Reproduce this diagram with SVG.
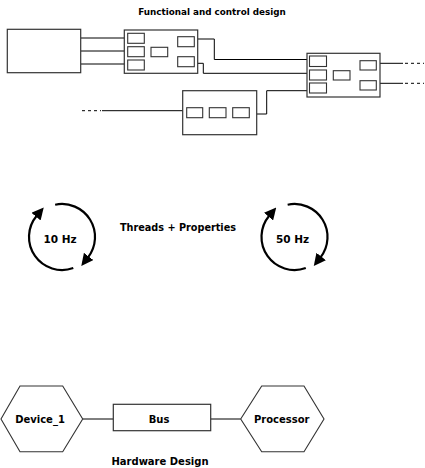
<svg xmlns="http://www.w3.org/2000/svg" width="425" height="468" viewBox="0 0 425 468">
  <style>
    .box { fill: #fff; stroke: #333; stroke-width: 1.2; }
    .port { fill: #fff; stroke: #333; stroke-width: 1.1; }
    .wire { fill: none; stroke: #000; stroke-width: 1; }
    .stub { fill: none; stroke: #000; stroke-width: 1; stroke-dasharray: 3 3; }
    .cycle { fill: none; stroke: #000; stroke-width: 2.2; marker-end: url(#head); }
    .hex { fill: #fff; stroke: #333; stroke-width: 1.1; }
    text { font-family: "DejaVu Sans", "Liberation Sans", sans-serif; font-weight: bold; fill: #000; text-anchor: middle; }
    .lbl { font-size: 10px; }
  </style>
  <defs>
    <marker id="head" markerUnits="userSpaceOnUse" markerWidth="12" markerHeight="12" viewBox="0 0 11 11" refX="1" refY="5.5" orient="auto">
      <path d="M0,0 L11,5.5 L0,11 z" fill="#000"/>
    </marker>
  </defs>

  <!-- functional and control design -->
  <text x="212" y="15" font-size="8.8">Functional and control design</text>

  <g id="connectors">
    <path class="wire" d="M81,38 H128 M81,51 H128 M81,64 H128"/>
    <path class="wire" d="M197.7,39 H214.3 V59.5 H307"/>
    <path class="wire" d="M197.7,63.3 H203.3 V73.3 H307"/>
    <path class="wire" d="M256.7,114 H266.7 V90.7 H307"/>
    <path class="wire" d="M102,110.7 H186.7"/>
    <path class="stub" d="M82,110.7 H101"/>
    <path class="wire" d="M380,63.3 H403 M380,83.3 H403"/>
    <path class="stub" d="M405,63.3 H424 M405,83.3 H424"/>
    <path class="wire" d="M82.7,419 H113.3 M210.7,419 H240.7"/>
  </g>

  <g id="source">
    <rect class="box" x="7.3" y="29.3" width="73.4" height="43.4"/>
  </g>

  <g id="component_1">
    <rect class="box" x="124.3" y="30" width="73.4" height="43.3"/>
    <rect class="port" x="127.7" y="33.3" width="16.6" height="10"/>
    <rect class="port" x="127.7" y="46.7" width="16.6" height="10"/>
    <rect class="port" x="127.7" y="60" width="16.6" height="10"/>
    <rect class="port" x="151" y="47.3" width="16.7" height="9.4"/>
    <rect class="port" x="177.7" y="36.7" width="16.6" height="10"/>
    <rect class="port" x="177.7" y="56.7" width="16.6" height="10"/>
  </g>

  <g id="component_2">
    <rect class="box" x="307" y="53.3" width="73" height="43.7"/>
    <rect class="port" x="309.5" y="56" width="17" height="10.5"/>
    <rect class="port" x="309.5" y="70" width="17" height="10"/>
    <rect class="port" x="309.5" y="83" width="17" height="10"/>
    <rect class="port" x="333.3" y="70.7" width="16.7" height="9.3"/>
    <rect class="port" x="360" y="60.7" width="16.3" height="9.3"/>
    <rect class="port" x="360" y="80.7" width="16.3" height="9.3"/>
  </g>

  <g id="component_3">
    <rect class="box" x="182.7" y="90.7" width="74" height="44"/>
    <rect class="port" x="186.7" y="107.7" width="16" height="10"/>
    <rect class="port" x="209.3" y="107.7" width="16.7" height="10"/>
    <rect class="port" x="232.7" y="107.7" width="16.6" height="10"/>
  </g>

  <!-- threads + properties -->
  <g id="thread_10hz">
    <path class="cycle" d="M55.14,204.72 A33,33 0 0 1 88,257.32"/>
    <path class="cycle" d="M73.29,268.01 A33,33 0 0 1 36.72,215.79"/>
    <text x="60" y="243" font-size="10.5">10 Hz</text>
  </g>

  <text x="178" y="230.7" font-size="9.7">Threads + Properties</text>

  <g id="thread_50hz" transform="translate(232.5,0)">
    <path class="cycle" d="M55.14,204.72 A33,33 0 0 1 88,257.32"/>
    <path class="cycle" d="M73.29,268.01 A33,33 0 0 1 36.72,215.79"/>
    <text x="60" y="243" font-size="10.5">50 Hz</text>
  </g>

  <!-- hardware design -->
  <g id="device_1">
    <polygon class="hex" points="1,419 20,386 62.7,386 82.7,419 62.7,451.7 20,451.7"/>
    <text class="lbl" x="40" y="422.7">Device_1</text>
  </g>

  <g id="bus">
    <rect class="box" x="113.3" y="404.3" width="97.4" height="26.4"/>
    <text class="lbl" x="159" y="422.7">Bus</text>
  </g>

  <g id="processor">
    <polygon class="hex" points="240.7,419 261.7,386 304,386 324,419 304,451.7 261.7,451.7"/>
    <text class="lbl" x="281.7" y="422.7">Processor</text>
  </g>

  <text class="lbl" x="160" y="465">Hardware Design</text>
</svg>
